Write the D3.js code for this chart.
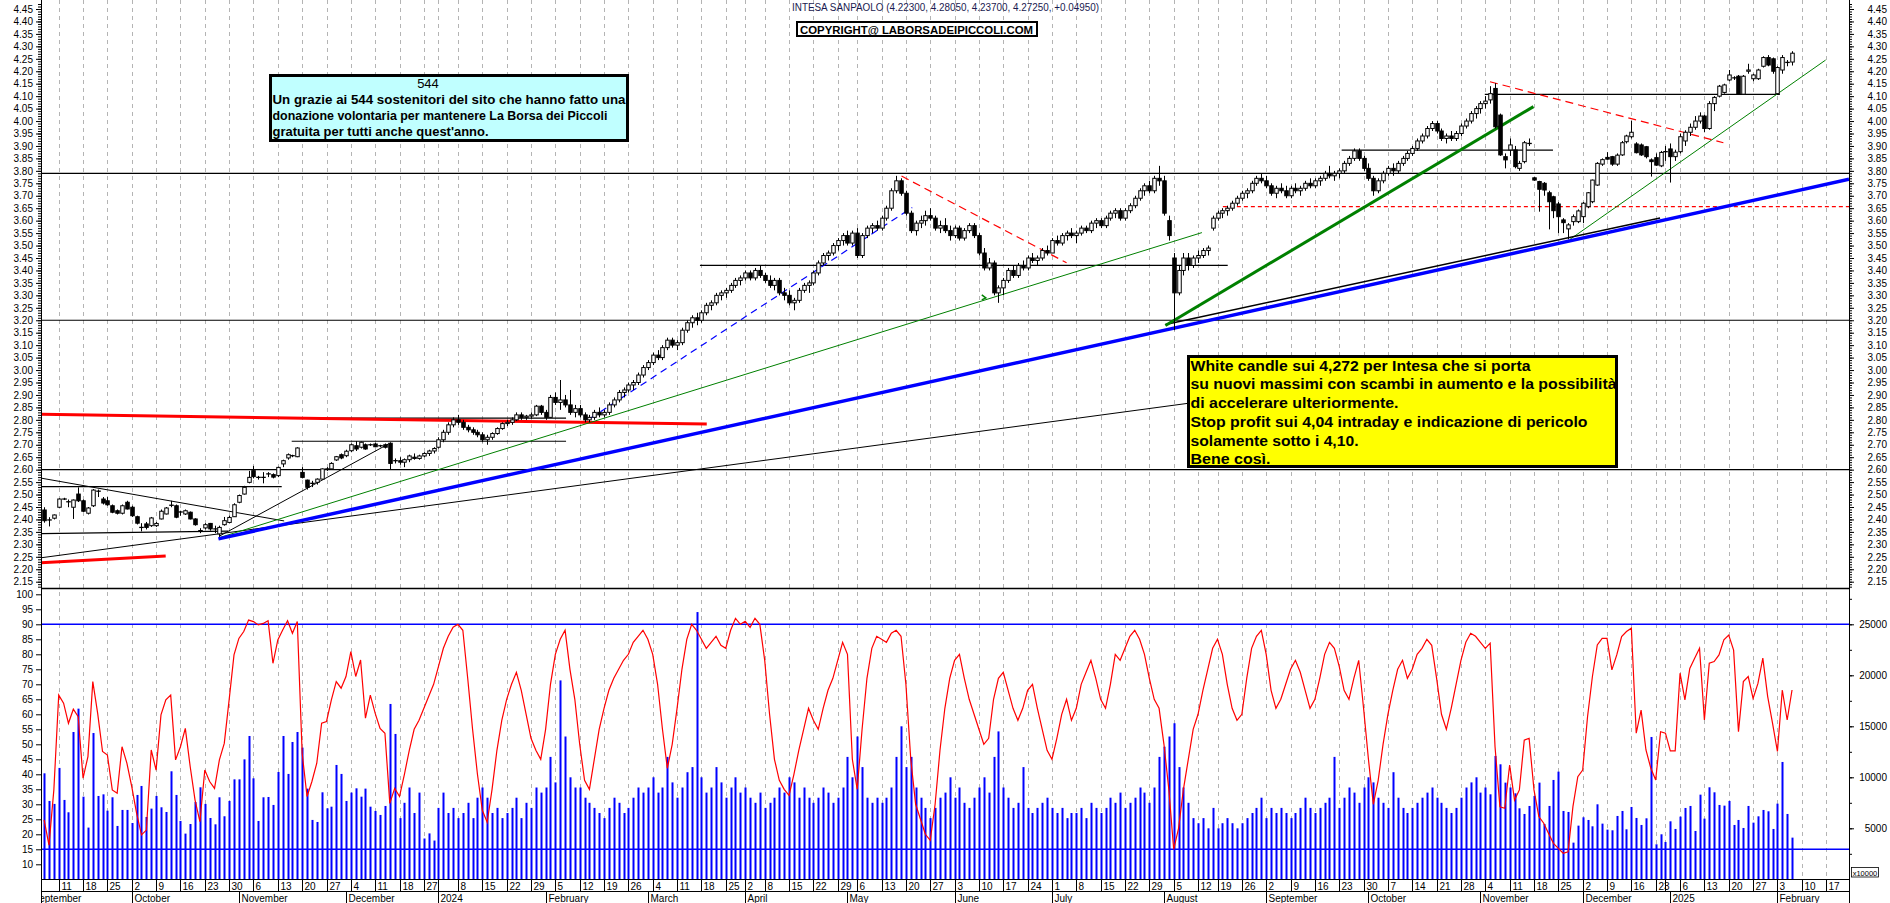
<!DOCTYPE html>
<html><head><meta charset="utf-8">
<script src="https://cdn.jsdelivr.net/npm/d3@7"></script>
<style>body{margin:0;background:#fff}svg{display:block;font-family:Arial,"Liberation Sans",sans-serif}</style>
</head><body><svg id="c" width="1890" height="903"></svg>
<script>
// ---------------- DATA ----------------
const firstDay = "2023-09-06";
const calendarFrom = "2023-09-01", calendarTo = "2025-03-07";
const holidays = ["2023-12-25","2023-12-26","2024-01-01","2024-03-29","2024-04-01","2024-05-01","2024-08-15","2024-12-24","2024-12-25","2024-12-26","2024-12-31","2025-01-01"];
const monthNames = ["January","February","March","April","May","June","July","August","September","October","November","December"];
const titleText = "INTESA SANPAOLO (4.22300, 4.28050, 4.23700, 4.27250, +0.04950)";
const copyrightText = "COPYRIGHT@ LABORSADEIPICCOLI.COM";
const cyanLines = ["544","Un grazie ai 544 sostenitori del sito che hanno fatto una","donazione volontaria per mantenere La Borsa dei Piccoli","gratuita per tutti anche quest'anno."];
const yellowLines = ["White candle sui 4,272 per Intesa che si porta","su nuovi massimi con scambi in aumento e la possibilità","di accelerare ulteriormente.","Stop profit sui 4,04 intraday e indicazione di pericolo","solamente sotto i 4,10.","Bene così."];
const priceTicks = d3.range(43, 90).map(k => k * 0.05);
const oscTicks = d3.range(10, 101, 5);
const volTicks = [5000, 10000, 15000, 20000, 25000];

// [open, high, low, close], one per trading day from 2023-09-06
const ohlc = [
[2.438,2.449,2.387,2.395],[2.398,2.409,2.372,2.398],[2.405,2.42,2.40,2.418],[2.449,2.485,2.445,2.482],[2.482,2.487,2.478,2.482],
[2.471,2.48,2.449,2.471],[2.449,2.48,2.402,2.478],[2.502,2.529,2.47,2.475],[2.475,2.48,2.43,2.433],[2.425,2.45,2.42,2.446],
[2.455,2.522,2.45,2.518],[2.515,2.52,2.49,2.512],[2.482,2.49,2.46,2.466],[2.475,2.49,2.455,2.459],[2.455,2.46,2.425,2.429],
[2.435,2.44,2.42,2.425],[2.425,2.46,2.42,2.455],[2.469,2.475,2.44,2.442],[2.449,2.455,2.41,2.415],[2.411,2.415,2.38,2.385],
[2.368,2.385,2.352,2.368],[2.382,2.39,2.36,2.368],[2.375,2.41,2.37,2.406],[2.375,2.39,2.37,2.384],[2.402,2.44,2.40,2.433],
[2.422,2.45,2.42,2.446],[2.457,2.475,2.449,2.457],[2.455,2.46,2.405,2.409],[2.43,2.435,2.415,2.43],[2.422,2.44,2.418,2.435],
[2.429,2.432,2.40,2.402],[2.402,2.405,2.375,2.379],[2.355,2.365,2.345,2.355],[2.366,2.385,2.36,2.379],[2.384,2.386,2.355,2.362],
[2.362,2.375,2.345,2.362],[2.342,2.375,2.33,2.368],[2.379,2.41,2.375,2.395],[2.388,2.415,2.385,2.408],[2.411,2.465,2.41,2.459],
[2.469,2.50,2.465,2.496],[2.502,2.535,2.50,2.529],[2.549,2.595,2.545,2.569],[2.596,2.615,2.565,2.572],[2.569,2.575,2.56,2.569],
[2.569,2.59,2.545,2.569],[2.583,2.59,2.57,2.583],[2.58,2.585,2.565,2.57],[2.576,2.612,2.57,2.609],[2.623,2.64,2.61,2.636],
[2.647,2.665,2.64,2.66],[2.656,2.66,2.65,2.656],[2.652,2.69,2.65,2.687],[2.589,2.61,2.565,2.569],[2.558,2.56,2.52,2.529],
[2.545,2.555,2.53,2.545],[2.549,2.565,2.54,2.562],[2.562,2.605,2.56,2.603],[2.603,2.61,2.595,2.603],[2.603,2.63,2.60,2.625],
[2.639,2.655,2.635,2.652],[2.66,2.665,2.642,2.647],[2.656,2.68,2.65,2.674],[2.676,2.705,2.67,2.70],[2.696,2.715,2.675,2.683],
[2.69,2.713,2.685,2.71],[2.70,2.705,2.68,2.683],[2.70,2.705,2.695,2.70],[2.703,2.708,2.69,2.692],[2.696,2.70,2.69,2.696],
[2.70,2.705,2.685,2.69],[2.706,2.71,2.60,2.625],[2.636,2.645,2.625,2.636],
// Dec 18 2023 ->
[2.636,2.65,2.62,2.63],[2.63,2.645,2.61,2.64],[2.64,2.66,2.63,2.655],[2.65,2.665,2.64,2.645],[2.645,2.66,2.64,2.655],
[2.655,2.67,2.65,2.665],[2.665,2.68,2.655,2.675],[2.675,2.69,2.665,2.685],
[2.69,2.73,2.685,2.72],[2.72,2.76,2.71,2.75],[2.75,2.79,2.74,2.78],[2.78,2.81,2.77,2.80],
[2.80,2.82,2.78,2.79],[2.79,2.80,2.76,2.77],[2.77,2.78,2.75,2.76],[2.76,2.77,2.74,2.75],[2.75,2.76,2.73,2.74],
[2.74,2.75,2.71,2.72],[2.72,2.74,2.70,2.73],[2.73,2.75,2.72,2.745],[2.745,2.77,2.74,2.765],[2.765,2.79,2.76,2.785],
[2.785,2.80,2.775,2.79],[2.79,2.81,2.78,2.80],[2.80,2.83,2.795,2.82],[2.82,2.83,2.80,2.81],[2.81,2.82,2.80,2.815],
[2.815,2.83,2.805,2.82],[2.82,2.86,2.815,2.855],[2.855,2.86,2.82,2.83],
[2.83,2.84,2.80,2.81],[2.81,2.90,2.81,2.89],
[2.89,2.91,2.86,2.87],[2.87,2.96,2.84,2.88],[2.88,2.90,2.85,2.86],[2.86,2.92,2.82,2.83],[2.83,2.86,2.81,2.845],
[2.845,2.86,2.81,2.82],[2.82,2.83,2.79,2.80],[2.80,2.82,2.79,2.81],[2.81,2.84,2.80,2.83],[2.83,2.85,2.81,2.82],
[2.82,2.84,2.81,2.83],[2.83,2.87,2.82,2.86],[2.86,2.89,2.85,2.88],[2.88,2.92,2.87,2.91],[2.91,2.93,2.89,2.92],
[2.92,2.95,2.91,2.94],[2.94,2.96,2.92,2.95],[2.95,2.99,2.94,2.98],[2.98,3.02,2.97,3.01],
[3.01,3.04,3.00,3.03],
[3.03,3.07,3.02,3.06],[3.06,3.08,3.04,3.05],[3.05,3.10,3.04,3.09],[3.09,3.13,3.08,3.12],[3.12,3.13,3.09,3.10],
[3.10,3.12,3.08,3.11],[3.11,3.17,3.10,3.16],[3.16,3.20,3.15,3.19],[3.19,3.22,3.17,3.21],[3.21,3.23,3.18,3.20],
[3.20,3.24,3.19,3.23],[3.23,3.27,3.22,3.26],[3.26,3.28,3.24,3.27],[3.27,3.31,3.26,3.30],[3.30,3.32,3.28,3.31],
[3.31,3.33,3.29,3.32],[3.32,3.35,3.31,3.34],[3.34,3.37,3.33,3.36],[3.36,3.38,3.34,3.37],
[3.37,3.40,3.36,3.39],[3.39,3.40,3.36,3.37],[3.37,3.41,3.36,3.40],[3.40,3.42,3.37,3.38],
[3.38,3.39,3.35,3.36],[3.36,3.38,3.33,3.34],[3.34,3.37,3.32,3.36],[3.36,3.37,3.30,3.31],[3.31,3.33,3.28,3.30],
[3.30,3.32,3.26,3.27],[3.27,3.29,3.24,3.28],[3.28,3.33,3.27,3.32],[3.32,3.35,3.31,3.34],[3.34,3.36,3.31,3.35],
[3.35,3.40,3.34,3.39],[3.39,3.44,3.38,3.43],[3.43,3.47,3.42,3.46],[3.46,3.48,3.44,3.47],[3.47,3.51,3.46,3.50],
[3.50,3.53,3.48,3.52],[3.52,3.55,3.50,3.54],
[3.54,3.56,3.50,3.51],[3.51,3.56,3.50,3.55],
[3.55,3.57,3.45,3.46],[3.46,3.55,3.45,3.54],[3.54,3.58,3.53,3.57],[3.57,3.59,3.55,3.58],[3.58,3.60,3.56,3.57],
[3.57,3.62,3.56,3.61],[3.61,3.66,3.60,3.65],[3.65,3.73,3.64,3.72],[3.72,3.78,3.71,3.76],[3.76,3.77,3.70,3.71],
[3.71,3.72,3.62,3.63],[3.63,3.64,3.55,3.56],[3.56,3.60,3.54,3.59],[3.59,3.62,3.57,3.60],[3.60,3.64,3.58,3.62],
[3.62,3.65,3.60,3.61],[3.61,3.62,3.56,3.57],[3.57,3.60,3.55,3.58],[3.58,3.61,3.55,3.56],[3.56,3.58,3.52,3.54],
[3.54,3.58,3.53,3.57],[3.57,3.58,3.52,3.53],[3.53,3.57,3.52,3.56],[3.56,3.59,3.55,3.58],[3.58,3.59,3.53,3.54],
[3.54,3.55,3.46,3.47],[3.47,3.49,3.40,3.41],[3.41,3.45,3.40,3.43],[3.43,3.44,3.30,3.31],[3.31,3.34,3.27,3.33],
[3.33,3.37,3.30,3.36],[3.36,3.41,3.35,3.40],[3.40,3.42,3.37,3.38],[3.38,3.43,3.37,3.42],[3.42,3.44,3.40,3.41],
[3.41,3.46,3.40,3.45],[3.45,3.47,3.43,3.44],[3.44,3.46,3.42,3.45],[3.45,3.49,3.44,3.48],[3.48,3.50,3.46,3.47],
[3.47,3.53,3.47,3.52],[3.52,3.54,3.50,3.51],[3.51,3.55,3.50,3.54],[3.54,3.56,3.52,3.55],[3.55,3.57,3.53,3.54],
[3.54,3.56,3.51,3.55],[3.55,3.58,3.54,3.57],[3.57,3.58,3.55,3.56],[3.56,3.60,3.55,3.59],[3.59,3.61,3.57,3.60],
[3.60,3.61,3.57,3.58],[3.58,3.62,3.57,3.61],[3.61,3.64,3.60,3.63],[3.63,3.65,3.61,3.64],[3.64,3.65,3.60,3.61],
[3.61,3.65,3.60,3.64],[3.64,3.67,3.63,3.66],[3.66,3.70,3.65,3.69],[3.69,3.73,3.68,3.72],[3.72,3.75,3.70,3.74],
[3.74,3.76,3.71,3.72],[3.72,3.78,3.71,3.77],[3.77,3.82,3.74,3.76],
[3.76,3.78,3.62,3.63],[3.60,3.62,3.52,3.54],
[3.45,3.47,3.16,3.31],[3.31,3.42,3.30,3.40],[3.40,3.47,3.38,3.45],[3.45,3.47,3.40,3.42],[3.42,3.46,3.41,3.45],
[3.45,3.48,3.43,3.46],[3.46,3.49,3.45,3.48],[3.48,3.50,3.46,3.49],[3.57,3.62,3.56,3.61],
[3.61,3.64,3.60,3.63],[3.63,3.65,3.61,3.64],[3.64,3.66,3.62,3.65],[3.65,3.68,3.64,3.67],[3.67,3.70,3.66,3.69],
[3.69,3.72,3.68,3.71],[3.71,3.73,3.69,3.72],[3.72,3.76,3.71,3.75],[3.75,3.78,3.74,3.77],[3.77,3.79,3.75,3.76],
[3.76,3.78,3.73,3.74],[3.74,3.75,3.70,3.71],[3.71,3.74,3.69,3.73],[3.73,3.75,3.71,3.72],[3.72,3.74,3.69,3.70],
[3.70,3.74,3.69,3.73],[3.73,3.75,3.71,3.72],[3.72,3.74,3.70,3.73],[3.73,3.76,3.72,3.75],[3.75,3.77,3.73,3.74],
[3.74,3.77,3.73,3.76],[3.76,3.78,3.74,3.77],[3.77,3.80,3.76,3.79],[3.79,3.82,3.77,3.78],[3.78,3.80,3.76,3.79],
[3.79,3.81,3.77,3.80],[3.80,3.84,3.79,3.83],[3.83,3.86,3.82,3.85],[3.85,3.89,3.84,3.88],[3.88,3.89,3.84,3.85],
[3.85,3.86,3.80,3.81],
[3.81,3.83,3.76,3.77],[3.77,3.78,3.70,3.72],[3.72,3.77,3.71,3.76],[3.76,3.80,3.75,3.79],
[3.79,3.82,3.78,3.81],[3.81,3.83,3.78,3.80],[3.80,3.84,3.79,3.83],[3.83,3.86,3.82,3.85],[3.85,3.88,3.84,3.87],
[3.87,3.90,3.86,3.89],[3.89,3.93,3.88,3.92],[3.92,3.95,3.91,3.94],[3.94,3.98,3.93,3.97],[3.97,4.00,3.96,3.99],
[3.99,4.00,3.95,3.96],[3.96,3.97,3.92,3.93],[3.93,3.95,3.91,3.94],[3.94,3.96,3.92,3.93],[3.93,3.96,3.92,3.95],
[3.95,3.99,3.94,3.98],[3.98,4.01,3.97,4.00],[4.00,4.04,3.99,4.03],[4.03,4.06,4.01,4.05],
[4.05,4.08,4.03,4.07],[4.07,4.10,4.05,4.08],
// Nov 5 2024 ->
[4.085,4.14,4.07,4.11],[4.131,4.152,3.97,3.977],[4.024,4.03,3.86,3.864],[3.857,3.87,3.81,3.844],
[3.884,3.93,3.86,3.904],[3.884,3.90,3.81,3.817],[3.81,3.84,3.80,3.83],[3.837,3.92,3.83,3.913],[3.91,3.93,3.90,3.91],
[3.772,3.775,3.76,3.763],[3.757,3.76,3.636,3.726],[3.75,3.755,3.70,3.723],[3.712,3.72,3.565,3.676],[3.696,3.70,3.61,3.64],
[3.667,3.675,3.55,3.616],[3.603,3.61,3.55,3.592],[3.567,3.59,3.525,3.583],[3.596,3.625,3.58,3.616],[3.596,3.645,3.59,3.639],
[3.616,3.675,3.59,3.67],[3.656,3.715,3.65,3.712],[3.676,3.765,3.67,3.763],[3.743,3.835,3.74,3.83],[3.827,3.85,3.82,3.845],
[3.854,3.875,3.845,3.847],[3.857,3.86,3.82,3.827],[3.827,3.87,3.82,3.863],[3.864,3.92,3.86,3.913],[3.917,3.945,3.91,3.94],
[3.937,4.001,3.93,3.955],[3.908,3.915,3.87,3.873],[3.904,3.91,3.86,3.864],[3.897,3.90,3.85,3.857],[3.844,3.85,3.777,3.837],
[3.853,3.87,3.82,3.823],[3.82,3.88,3.815,3.874],[3.877,3.90,3.84,3.877],
[3.888,3.91,3.753,3.857],[3.857,3.885,3.84,3.875],
[3.877,3.95,3.87,3.937],[3.92,3.963,3.90,3.955],[3.955,3.99,3.94,3.975],[3.975,4.02,3.965,4.00],[4.00,4.035,3.99,4.02],
[4.02,4.025,3.955,3.97],[3.97,4.08,3.965,4.07],[4.07,4.10,4.04,4.095],[4.10,4.145,4.095,4.14],[4.115,4.15,4.11,4.145],
[4.165,4.205,4.16,4.185],[4.175,4.18,4.165,4.172],[4.18,4.185,4.105,4.108],[4.108,4.185,4.105,4.18],[4.20,4.23,4.19,4.205],
[4.17,4.19,4.16,4.185],[4.17,4.21,4.165,4.205],[4.22,4.26,4.215,4.255],[4.255,4.265,4.22,4.225],[4.25,4.255,4.19,4.20],
[4.11,4.22,4.105,4.215],[4.205,4.265,4.19,4.255],[4.235,4.245,4.22,4.236],[4.237,4.2805,4.223,4.2725]
];

// daily volume (shares), same days
const volume = [
10390,7680,7390,10920,7780,6570,14440,16730,8100,5070,14340,8170,8330,6730,8040,5230,6800,6800,5520,8270,
9150,6110,6930,8170,7060,6600,10590,8270,5720,4480,5420,7580,9020,7390,6010,5390,8040,6180,7680,9800,
9800,11760,14050,9900,5720,8040,8070,7290,10520,14050,10330,13460,14440,12910,8890,5820,5620,8530,6960,7120,
11210,10330,7680,8500,8920,8100,8890,7120,6700,6310,7190,17190,14250,
6000,7500,9000,6500,8500,4000,4500,3800,
7000,8500,6500,7000,6000,6500,7500,6000,8000,9000,8000,6500,7000,6000,6500,7000,8000,6000,7500,7000,9000,8500,
9000,12000,9500,19500,14000,10000,9000,9000,8000,7500,7000,6500,6000,7000,8000,7500,6500,7000,8000,9000,8500,
9000,10000,8500,9000,12000,9500,8000,9000,10500,11000,26200,10000,8500,9000,11000,9500,8000,9000,10000,8500,
9000,8000,7500,8500,7000,7500,8000,9000,8500,10000,9500,8000,9000,8000,7500,8000,9000,8500,7500,8000,9000,
12000,10000,14000,11000,8000,7500,8000,7500,8000,9000,12000,15000,11000,12000,9000,8000,7000,6000,7000,8000,8500,10000,
8000,9000,7500,7000,8000,9000,10000,8500,12000,14500,9000,8000,7000,7500,11000,7000,6500,7000,7500,8000,
7000,6500,7000,6000,6500,6500,7000,6000,7500,7000,6500,7000,8000,7500,8500,7000,7500,8000,9000,8500,7500,9000,12000,
13000,14000,15300,11000,9000,7500,6000,5500,6000,5000,7000,5000,5500,6000,5500,5000,5500,6000,6500,7000,8000,
6000,7000,6500,7000,6500,6000,6500,7000,8000,7000,6500,7000,7500,8000,12000,7000,8000,9000,8500,7500,9000,
10000,9500,8000,7500,7000,10500,8000,7000,6500,7000,7500,8000,8500,9000,8000,7500,7000,6500,7000,8000,9000,9500,10000,
8500,9000,
8333,12092,11275,9477,9000,8431,6961,6405,7190,8170,9477,5425,7190,9739,10556,6699,6601,3595,5261,6078,
5817,5196,7353,5458,4869,4804,6209,6699,4902,7092,6013,5327,5980,13954,3431,4412,3660,5686,4935,6144,
6993,7190,4739,8300,5948,9020,8529,7288,7222,7680,5327,5817,5033,7190,5556,6176,6797,6667,4935,7418,
11503,6405,4085
];

// oscillator (0-100 scale), same days
const oscillator = [
24.8,16.4,34.8,66.4,63.7,57,61.7,59.2,38.7,45.9,70.9,60.3,47.6,46.4,34.8,33.7,49.2,43.7,35.9,27,
19.8,21.4,48.1,41.4,59.8,64.8,66.4,44.8,49.2,55.3,42.6,31.4,24.2,41.4,37.6,35.3,44.8,50.3,64.8,79.8,
85.3,87.6,91.4,90.9,89.8,90.3,91.2,77,84.8,88.1,91.2,87,90.9,47,32.6,37.6,43.7,57,57.6,64.8,
70.9,68.7,72.6,80.9,72.6,78.1,58.7,66.4,60.3,55.3,53.7,30.3,35.3,
32.6,40,48,55,58,62,66,70,
76,82,86,89,90,88,72,55,40,28,24,35,48,58,65,70,74,68,60,52,48,45,
55,70,80,85,88,75,65,50,38,35,45,55,62,68,72,75,78,80,84,86,88,
85,80,70,55,42,50,62,75,85,90,88,85,82,84,86,83,82,88,92,90,
91,89,92,90,78,60,45,38,35,33,40,48,55,62,58,55,62,68,72,78,84,
80,45,35,55,72,82,86,85,84,87,88,86,70,45,30,25,20,18,30,48,62,72,
78,80,72,65,60,55,50,52,65,72,74,68,62,58,62,68,70,62,55,48,
45,52,60,65,58,62,70,74,78,72,65,62,70,80,78,82,86,88,85,80,72,65,62,
50,35,15,22,35,45,55,60,68,75,82,85,80,70,62,58,60,72,82,86,88,
80,68,62,65,70,75,78,74,68,62,65,72,80,84,82,76,68,65,72,78,62,
45,30,38,50,60,68,75,78,72,75,80,82,85,83,72,60,55,62,70,78,84,87,86,
84,82,
83.7,49.2,29.2,28.7,43.1,31.4,34.8,51.4,52,34.8,25.9,23.7,20.3,17,15.3,13.7,14.2,29.2,39.2,41.4,
59.2,72.6,83.1,85.3,85.3,74.8,79.8,85.9,87.6,88.7,53.7,61.4,48.1,42,38.1,54.2,53.7,47.8,47.8,73.7,
64.8,75.3,78.7,82,58.1,77,77.6,79.8,84.8,86.4,81.4,54.2,70.9,72.6,65.3,70.3,78.7,65.9,57,47.6,
68.1,58.1,68.1
];

// annotation lines: [trading-day index, price] endpoints
const hLevelsFull = [3.79, 3.20, 2.60];
const blueTrend = [[35.8, 2.322], [370.7, 3.766]];
const blackLongTrend = [[-0.64, 2.246], [234.8, 2.866]];
const blackDownTrend = [[-0.64, 2.566], [49.3, 2.394]];
const blackUpTrend = [[36, 2.333], [70.7, 2.703]];
const blackAugTrend = [[230.3, 3.183], [331.9, 3.611]];
const greenThin1 = [[36, 2.327], [237.8, 3.552]];
const greenThin2 = [[313.4, 3.525], [365.9, 4.245]];
const greenThick = [[230.3, 3.179], [305.9, 4.058]];
const blueDashed = [[112.2, 2.806], [178.3, 3.653]];
const redDashed1 = [[176.1, 3.779], [210, 3.431]];
const redDashed2 = [[296.96, 4.158], [344.9, 3.913]];
const redThickTop = [[-0.64, 2.822], [136.1, 2.783]];
const redThickLow = [[-0.64, 2.226], [24.97, 2.253]];
const shortLevels = [[-0.64, 48.8, 2.532], [-0.64, 37.8, 2.343, 2.353], [50.85, 107.2, 2.714], [54.2, 107.2, 2.807], [134.7, 243.1, 3.42], [266.5, 309.9, 3.883], [295.9, 356.5, 4.107]];
const redDottedLevel = [242.1, 370.7, 3.656];
const greenMark = [193.2, 3.29];

// ---------------- CHART ----------------
const svg = d3.select("#c");
const X0 = 41, X1 = 1849;
svg.append("rect").attr("width", 1890).attr("height", 903).attr("fill", "#fff");

const cal = [];
const hol = new Set(holidays);
for (let d = new Date(calendarFrom + "T00:00:00Z"); d <= new Date(calendarTo + "T00:00:00Z"); d.setUTCDate(d.getUTCDate() + 1)) {
  const wd = d.getUTCDay(); if (wd === 0 || wd === 6) continue;
  const s = d.toISOString().slice(0, 10); if (hol.has(s)) continue;
  cal.push(new Date(d));
}
const base = cal.findIndex(d => d.toISOString().slice(0, 10) === firstDay);
const days = cal.map((d, k) => ({date: d, i: k - base}));

const x = d3.scaleLinear().domain([-0.64, 370.7]).range([X0, X1]);
const yP = d3.scaleLinear().domain([2.15, 4.45]).range([581.7, 9]);
const yO = d3.scaleLinear().domain([15, 90]).range([849.3, 624.3]);
const yV = d3.scaleLinear().domain([0, 25000]).range([879.3, 624.3]);

const defs = svg.append("defs");
defs.append("clipPath").attr("id", "plot").append("rect").attr("x", X0).attr("y", 0).attr("width", X1 - X0).attr("height", 880);
defs.append("clipPath").attr("id", "pricep").append("rect").attr("x", X0).attr("y", 0).attr("width", X1 - X0).attr("height", 588);
defs.append("clipPath").attr("id", "plot2").append("rect").attr("x", X0).attr("y", 870).attr("width", X1 - X0).attr("height", 40);

const weekTicks = days.filter((d, k) => k === 0 || +d3.utcMonday.floor(d.date) !== +d3.utcMonday.floor(days[k - 1].date));
const monthTicks = days.filter((d, k) => k === 0 || d.date.getUTCMonth() !== days[k - 1].date.getUTCMonth());
const inRange = d => x(d.i) > X0 && x(d.i) < X1;

svg.append("g").selectAll("line").data(weekTicks.filter(inRange)).join("line")
  .attr("x1", d => Math.round(x(d.i)) + 0.5).attr("x2", d => Math.round(x(d.i)) + 0.5)
  .attr("y1", 0).attr("y2", 880).attr("stroke", "#b4b4b4").attr("stroke-dasharray", "4,4");

const P = svg.append("g").attr("clip-path", "url(#pricep)");
const line = d3.line().x(d => x(d[0])).y(d => yP(d[1]));

hLevelsFull.forEach(v => P.append("line").attr("x1", X0).attr("x2", X1).attr("y1", yP(v)).attr("y2", yP(v)).attr("stroke", "#000").attr("stroke-width", 1.2));
shortLevels.forEach(s => P.append("line").attr("x1", x(s[0])).attr("x2", x(s[1])).attr("y1", yP(s[2])).attr("y2", yP(s.length > 3 ? s[3] : s[2])).attr("stroke", "#000").attr("stroke-width", 1.2));
P.append("line").attr("x1", x(redDottedLevel[0])).attr("x2", x(redDottedLevel[1])).attr("y1", yP(redDottedLevel[2])).attr("y2", yP(redDottedLevel[2]))
  .attr("stroke", "#ff0000").attr("stroke-width", 1.2).attr("stroke-dasharray", "4,3");

const drawL = (pts, color, w, dash) => { const p = P.append("path").attr("d", line(pts)).attr("fill", "none").attr("stroke", color).attr("stroke-width", w); if (dash) p.attr("stroke-dasharray", dash); };
drawL(redThickTop, "#ff0000", 3);
drawL(redThickLow, "#ff0000", 3);
drawL(blackLongTrend, "#000", 1);
drawL(blackDownTrend, "#000", 1);
drawL(blackUpTrend, "#000", 1);
drawL(greenThin1, "#008000", 1);
drawL(greenThin2, "#008000", 1);
drawL(blueDashed, "#0000ff", 1.2, "7,5");
drawL(redDashed1, "#ff0000", 1.2, "8,5");
drawL(redDashed2, "#ff0000", 1.2, "8,5");
drawL(blackAugTrend, "#000", 1.5);
drawL(blueTrend, "#0000ff", 3.5);
drawL(greenThick, "#008000", 3);
P.append("path").attr("d", `M${x(greenMark[0]) - 3},${yP(greenMark[1]) - 3}L${x(greenMark[0]) + 1},${yP(greenMark[1])}L${x(greenMark[0]) - 3},${yP(greenMark[1]) + 2}`)
  .attr("fill", "none").attr("stroke", "#008000").attr("stroke-width", 1.5);

const C = P.append("g");
ohlc.forEach((c, i) => {
  const cx = Math.round(x(i)) + 0.5;
  const [o, h, l, cl] = c;
  C.append("line").attr("x1", cx).attr("x2", cx).attr("y1", yP(h)).attr("y2", yP(l)).attr("stroke", "#000").attr("stroke-width", 1);
  const top = yP(Math.max(o, cl)), bot = yP(Math.min(o, cl));
  if (bot - top < 1.2) {
    C.append("line").attr("x1", cx - 2.3).attr("x2", cx + 2.3).attr("y1", (top + bot) / 2).attr("y2", (top + bot) / 2).attr("stroke", "#000").attr("stroke-width", 1.3);
  } else {
    C.append("rect").attr("x", cx - 1.75).attr("y", top).attr("width", 3.5).attr("height", bot - top)
      .attr("fill", cl >= o ? "#fff" : "#000").attr("stroke", "#000").attr("stroke-width", 1);
  }
});

svg.append("line").attr("x1", X0).attr("x2", X1).attr("y1", 588.5).attr("y2", 588.5).attr("stroke", "#000").attr("stroke-width", 1.3);

const V = svg.append("g").attr("clip-path", "url(#plot)");
V.selectAll("rect").data(volume).join("rect")
  .attr("x", (d, i) => Math.round(x(i)) - 0.5).attr("width", 2)
  .attr("y", d => yV(d)).attr("height", d => yV(0) - yV(d)).attr("fill", "#0000ff");
[90, 15].forEach(v => V.append("line").attr("x1", X0).attr("x2", X1).attr("y1", yO(v)).attr("y2", yO(v)).attr("stroke", "#0000ff").attr("stroke-width", 1.5));
V.append("path").datum(oscillator).attr("d", d3.line().x((d, i) => x(i)).y(d => yO(d)))
  .attr("fill", "none").attr("stroke", "#ff0000").attr("stroke-width", 1.2);

const axStyle = g => { g.select(".domain").remove(); g.selectAll("text").attr("font-size", 10).attr("fill", "#000").attr("font-family", "Arial, 'Liberation Sans', sans-serif"); g.selectAll("line").attr("stroke", "#000"); };
svg.append("g").attr("transform", `translate(${X0},0)`).call(d3.axisLeft(yP).tickValues(d3.range(213, 448).map(k => k / 100)).tickSize(3).tickFormat("")).call(axStyle);
svg.append("g").attr("transform", `translate(${X0},0)`).call(d3.axisLeft(yP).tickValues(priceTicks).tickSize(5).tickPadding(3).tickFormat(d3.format(".2f"))).call(axStyle);
svg.append("g").attr("transform", `translate(${X1},0)`).call(d3.axisRight(yP).tickValues(d3.range(213, 448).map(k => k / 100)).tickSize(3).tickFormat("")).call(axStyle);
svg.append("g").attr("transform", `translate(${X1},0)`).call(d3.axisRight(yP).tickValues(priceTicks).tickSize(5).tickFormat(d3.format(".2f"))).call(axStyle)
  .call(g => g.selectAll("text").attr("text-anchor", "end").attr("x", 1887 - X1));
svg.append("g").attr("transform", `translate(${X0},0)`).call(d3.axisLeft(yO).tickValues(oscTicks).tickSize(5).tickPadding(3)).call(axStyle);
svg.append("g").attr("transform", `translate(${X1},0)`).call(d3.axisRight(yV).tickValues(d3.range(2500, 27501, 2500)).tickSize(3).tickFormat("")).call(axStyle);
svg.append("g").attr("transform", `translate(${X1},0)`).call(d3.axisRight(yV).tickValues(volTicks).tickSize(5).tickFormat(d3.format("d"))).call(axStyle)
  .call(g => g.selectAll("text").attr("text-anchor", "end").attr("x", 1887 - X1));
svg.append("line").attr("x1", X0 + 0.5).attr("x2", X0 + 0.5).attr("y1", 0).attr("y2", 903).attr("stroke", "#000");
svg.append("line").attr("x1", X1 + 0.5).attr("x2", X1 + 0.5).attr("y1", 0).attr("y2", 903).attr("stroke", "#000");
svg.append("rect").attr("x", 1851.5).attr("y", 867.5).attr("width", 27).attr("height", 9.5).attr("fill", "#fff").attr("stroke", "#000").attr("stroke-width", 0.8);
svg.append("text").attr("x", 1865).attr("y", 875.5).attr("text-anchor", "middle").attr("font-size", 7.5).text("x10000");

svg.append("line").attr("x1", X0).attr("x2", X1).attr("y1", 879.5).attr("y2", 879.5).attr("stroke", "#000");
svg.append("line").attr("x1", X0).attr("x2", X1).attr("y1", 891.5).attr("y2", 891.5).attr("stroke", "#000");
const DA = svg.append("g").attr("clip-path", "url(#plot2)");
let prevEnd = -1e9;
weekTicks.filter(inRange).forEach(d => {
  const xx = Math.round(x(d.i)) + 0.5;
  DA.append("line").attr("x1", xx).attr("x2", xx).attr("y1", 880).attr("y2", 891).attr("stroke", "#000");
  const lab = String(d.date.getUTCDate());
  const w = lab.length * 5.6;
  if (xx + 2 >= prevEnd + 3) {
    DA.append("text").attr("x", xx + 2).attr("y", 889.5).attr("font-size", 10).text(lab);
    prevEnd = xx + 2 + w;
  }
});
monthTicks.forEach(d => {
  const xx = Math.round(x(d.i)) + 0.5;
  if (xx > X0 && xx < X1) DA.append("line").attr("x1", xx).attr("x2", xx).attr("y1", 891).attr("y2", 903).attr("stroke", "#000");
  if (xx < X1 - 10) {
    const m = d.date.getUTCMonth();
    DA.append("text").attr("x", xx + 2).attr("y", 901.5).attr("font-size", 10).text(m === 0 ? String(d.date.getUTCFullYear()) : monthNames[m]);
  }
});

svg.append("text").attr("x", 792).attr("y", 11).attr("font-size", 10).attr("fill", "#1a1a50").attr("textLength", 307).attr("lengthAdjust", "spacingAndGlyphs").text(titleText);
svg.append("rect").attr("x", 797).attr("y", 22).attr("width", 240).attr("height", 14).attr("fill", "#fff").attr("stroke", "#000").attr("stroke-width", 2);
svg.append("text").attr("x", 800).attr("y", 33.5).attr("font-size", 11.5).attr("font-weight", "bold").attr("textLength", 233).attr("lengthAdjust", "spacingAndGlyphs").text(copyrightText);

svg.append("rect").attr("x", 270.5).attr("y", 75.5).attr("width", 357).attr("height", 65).attr("fill", "#c0ffff").attr("stroke", "#000").attr("stroke-width", 3);
const cyW = [0, 353, 335, 216], cyY = [88, 104, 120, 136];
cyanLines.forEach((t, k) => {
  const tx = svg.append("text").attr("y", cyY[k]).attr("font-size", 12.5).attr("font-weight", "bold").attr("fill", "#000").text(t);
  if (k === 0) tx.attr("x", 428).attr("text-anchor", "middle").attr("font-weight", "normal").attr("font-size", 13);
  else tx.attr("x", 272.5).attr("textLength", cyW[k]).attr("lengthAdjust", "spacingAndGlyphs");
});

svg.append("rect").attr("x", 1188.5).attr("y", 356.5).attr("width", 428).attr("height", 110).attr("fill", "#ffff00").attr("stroke", "#000").attr("stroke-width", 3);
const yeW = [340, 426, 208, 397, 168, 80], yeY = [370.5, 389, 408, 427, 445.5, 464];
yellowLines.forEach((t, k) => {
  svg.append("text").attr("x", 1190.5).attr("y", yeY[k]).attr("font-size", 14.5).attr("font-weight", "bold").attr("fill", "#000")
    .attr("textLength", yeW[k]).attr("lengthAdjust", "spacingAndGlyphs").text(t);
});
</script></body></html>
